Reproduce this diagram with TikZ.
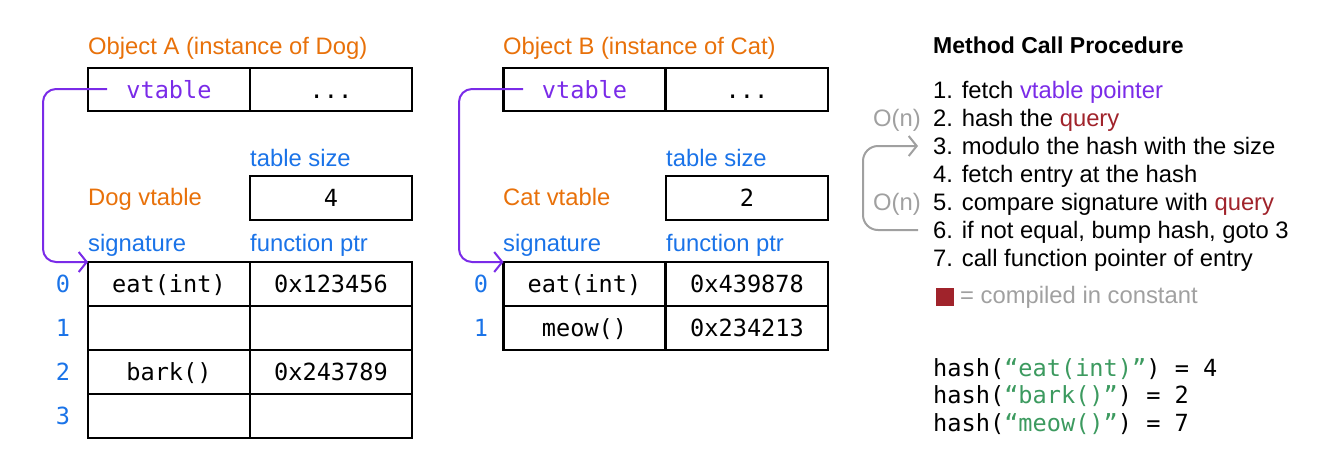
\documentclass[tikz,border=0pt]{standalone}
\usepackage{fontspec}
\setmainfont{Liberation Sans}
\setmonofont{DejaVu Sans Mono}
\usetikzlibrary{arrows.meta,calc}
\definecolor{orng}{HTML}{E8710A}
\definecolor{blu}{HTML}{1A73E8}
\definecolor{purp}{HTML}{7A2BE8}
\definecolor{redq}{HTML}{A0232B}
\definecolor{grn}{HTML}{3C9A5F}
\definecolor{gry}{HTML}{A0A0A0}
\begin{document}
\begin{tikzpicture}[x=1pt,y=-1pt,
  sans/.style={font=\fontsize{23.8}{28}\selectfont},
  mono/.style={font=\fontsize{23.6}{28}\selectfont\ttfamily},
  cell/.style={draw, line width=2.2pt, minimum width=162pt, minimum height=44pt, inner sep=0pt, outer sep=0pt, mono, text height=17pt, text depth=0pt},
  lbl/.style={sans, anchor=base west, inner sep=0pt},
  idx/.style={mono, text=blu, inner sep=0pt, text height=17pt, text depth=0pt},
  ptr/.style={draw=purp, line width=2pt, rounded corners=13pt, -{Straight Barb[length=8pt,width=20pt,line width=2pt]}},
  loop/.style={draw=gry, line width=2pt, rounded corners=15pt, -{Straight Barb[length=8pt,width=20pt,line width=2pt]}}
]
\useasboundingbox (0,0) rectangle (1320,472);

% ---------- Object A / Dog ----------
\node[lbl, text=orng] (oA) at (88,54) {Object A (instance of Dog)};
\node[cell, minimum height=43pt, text=purp] (avA) at (169,89.5) {vtable};
\node[cell, minimum height=43pt] (adA) at (331,89.5) {...};
\node[lbl, text=blu] (tsA) at (250,166) {table size};
\node[cell] (szA) at (331,198) {4};
\node[lbl, text=orng] (dvA) at (88,205) {Dog vtable};
\node[lbl, text=blu] (sgA) at (88,251) {signature};
\node[lbl, text=blu] (fpA) at (250,251) {function ptr};
\node[cell] (tA0) at (169,284) {eat(int)};
\node[cell] (fA0) at (331,284) {0x123456};
\node[cell] (tA1) at (169,328) {};
\node[cell] (fA1) at (331,328) {};
\node[cell] (tA2) at (169,372) {bark()};
\node[cell] (fA2) at (331,372) {0x243789};
\node[cell] (tA3) at (169,416) {};
\node[cell] (fA3) at (331,416) {};
\node[idx] (iA0) at (63,284) {0};
\node[idx] (iA1) at (63,328) {1};
\node[idx] (iA2) at (63,372) {2};
\node[idx] (iA3) at (63,416) {3};
\coordinate (sA) at (107,89);
\coordinate (cA1) at (43,89);
\coordinate (cA2) at (43,262);
\draw[ptr] (sA) -- (cA1) -- (cA2) -- (tA0.north west);

% ---------- Object B / Cat ----------
\node[lbl, text=orng] (oB) at (503,54) {Object B (instance of Cat)};
\node[cell, minimum height=43pt, text=purp] (avB) at (584.5,89.5) {vtable};
\node[cell, minimum height=43pt] (adB) at (747,89.5) {...};
\node[lbl, text=blu] (tsB) at (666,166) {table size};
\node[cell] (szB) at (747,198) {2};
\node[lbl, text=orng] (dvB) at (503,205) {Cat vtable};
\node[lbl, text=blu] (sgB) at (503,251) {signature};
\node[lbl, text=blu] (fpB) at (666,251) {function ptr};
\node[cell] (tB0) at (584.5,284) {eat(int)};
\node[cell] (fB0) at (747,284) {0x439878};
\node[cell] (tB1) at (584.5,328) {meow()};
\node[cell] (fB1) at (747,328) {0x234213};
\node[idx] (iB0) at (481,284) {0};
\node[idx] (iB1) at (481,328) {1};
\coordinate (sB) at (523,89);
\coordinate (cB1) at (459,89);
\coordinate (cB2) at (459,262);
\draw[ptr] (sB) -- (cB1) -- (cB2) -- (tB0.north west);

% ---------- Method call procedure ----------
\node[lbl, font=\fontsize{23}{28}\selectfont\bfseries] (ttl) at (933,53) {Method Call Procedure};
\node[lbl] (l1) at (933,98) {1. fetch \textcolor{purp}{vtable pointer}};
\node[lbl] (l2) at (933,126) {2. hash the \textcolor{redq}{query}};
\node[lbl] (l3) at (933,154) {3. modulo the hash with the size};
\node[lbl] (l4) at (933,182) {4. fetch entry at the hash};
\node[lbl] (l5) at (933,210) {5. compare signature with \textcolor{redq}{query}};
\node[lbl] (l6) at (933,238) {6. if not equal, bump hash, goto 3};
\node[lbl] (l7) at (933,266) {7. call function pointer of entry};
\node[sans, anchor=base east, inner sep=0pt, text=gry] (on1) at (921,126) {O(n)};
\node[sans, anchor=base east, inner sep=0pt, text=gry] (on2) at (921,210) {O(n)};
\coordinate (lpS) at (918,230);
\coordinate (lp1) at (863,230);
\coordinate (lp2) at (863,146);
\coordinate (lpE) at (918,146);
\draw[loop] (lpS) -- (lp1) -- (lp2) -- (lpE);

\node[fill=redq, minimum size=18pt, inner sep=0pt] (leg) at (945,297) {};
\node[lbl, text=gry] (legt) at (960,303) {= compiled in constant};

% ---------- hashes ----------
\node[mono, anchor=base west, inner sep=0pt] (h1) at (933,376) {hash(\textcolor{grn}{“eat(int)”}) = 4};
\node[mono, anchor=base west, inner sep=0pt] (h2) at (933,403.5) {hash(\textcolor{grn}{“bark()”}) = 2};
\node[mono, anchor=base west, inner sep=0pt] (h3) at (933,431) {hash(\textcolor{grn}{“meow()”}) = 7};
\end{tikzpicture}
\end{document}
